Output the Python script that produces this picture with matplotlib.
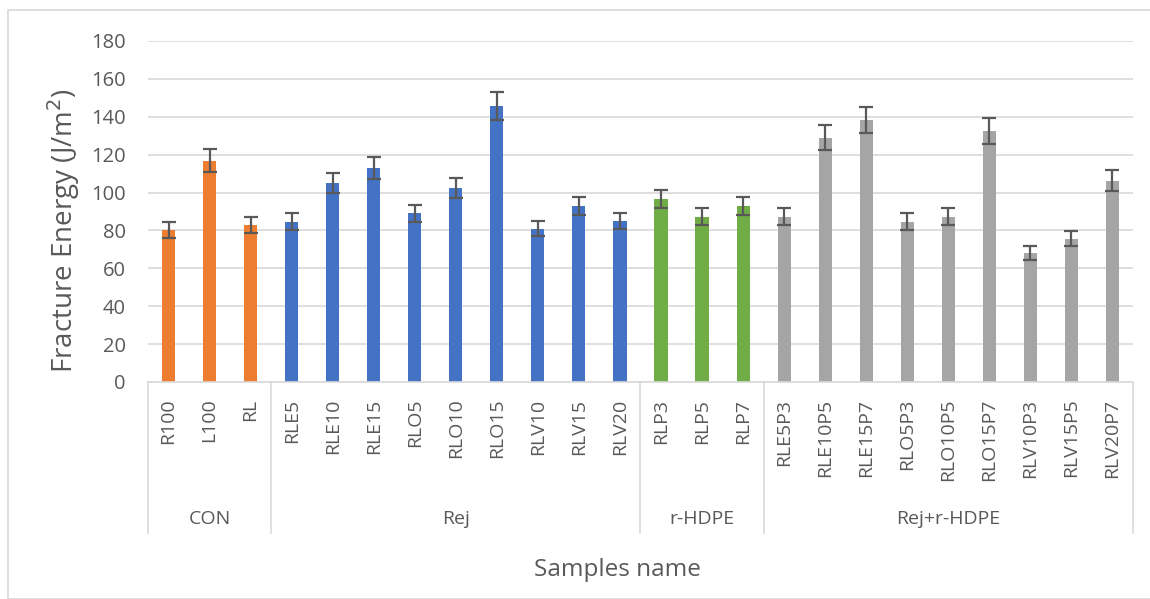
import matplotlib.pyplot as plt
import matplotlib.patches as patches
import numpy as np

# Données
samples = ['R100', 'L100', 'RL',
           'RLE5', 'RLE10', 'RLE15', 'RLO5', 'RLO10', 'RLO15', 'RLV10', 'RLV15', 'RLV20',
           'RLP3', 'RLP5', 'RLP7',
           'RLE5P3', 'RLE10P5', 'RLE15P7', 'RLO5P3', 'RLO10P5', 'RLO15P7', 'RLV10P3', 'RLV15P5', 'RLV20P7']
energy = [80.2, 116.8, 82.8,
          84.6, 104.8, 113.0, 89.0, 102.4, 145.9, 80.9, 92.9, 84.9,
          96.7, 87.2, 93.0,
          87.2, 129.0, 138.3, 84.6, 87.2, 132.5, 68.2, 75.6, 106.3]
errors = [4.0, 6.0, 4.3,
          4.4, 5.3, 5.7, 4.5, 5.1, 7.4, 4.1, 4.7, 4.2,
          4.9, 4.5, 4.7,
          4.5, 6.4, 6.9, 4.4, 4.5, 6.8, 3.6, 3.9, 5.4]
groups = ['CON', 'Rej', 'r-HDPE', 'Rej+r-HDPE']
group_sizes = [3, 9, 3, 9]
group_colors = ['#ED7D31', '#4472C4', '#70AD47', '#A5A5A5']

text_col = '#595959'
grid_col = '#D9D9D9'
font = 'Open Sans'

fig = plt.figure(figsize=(11.5, 5.99), dpi=100)
ax = fig.add_axes([0.1287, 0.3623, 0.8565, 0.5693])

# Couleurs par groupe
colors = []
for c, n in zip(group_colors, group_sizes):
    colors += [c] * n

x = np.arange(len(samples))
ax.bar(x, energy, width=0.32, color=colors, zorder=2)
ax.errorbar(x, energy, yerr=errors, fmt='none', ecolor='#595959',
            elinewidth=1.6, capsize=4.8, capthick=1.6, zorder=3)

ax.set_xlim(-0.5, len(samples) - 0.5)
ax.set_ylim(0, 180)
ax.set_yticks(np.arange(0, 181, 20))
ax.yaxis.grid(True, color=grid_col, linewidth=1.2, zorder=0)
ax.set_axisbelow(True)
for s in ['top', 'right', 'left']:
    ax.spines[s].set_visible(False)
ax.spines['bottom'].set_color(grid_col)
ax.spines['bottom'].set_linewidth(1.2)

ax.tick_params(axis='y', length=0, pad=16, labelsize=14.5, labelcolor=text_col)
ax.tick_params(axis='x', length=0, pad=12, labelsize=14, labelcolor=text_col)
for lab in ax.get_yticklabels():
    lab.set_family(font)
ax.set_xticks(x)
ax.set_xticklabels(samples, rotation=90, family=font)

ax.set_ylabel('Fracture Energy (J/m$^2$)', fontsize=20, color=text_col, family=font)
ax.yaxis.set_label_coords(-0.086, 0.443)
ax.yaxis.label.set_va('center')

# Axe des catégories à deux niveaux
trans = ax.get_xaxis_transform()
bounds = np.concatenate([[0], np.cumsum(group_sizes)]) - 0.5
for b in bounds:
    ax.plot([b, b], [0, -0.443], transform=trans, color=grid_col,
            linewidth=1.2, clip_on=False)
for g, lo, hi in zip(groups, bounds[:-1], bounds[1:]):
    ax.text((lo + hi) / 2, -0.402, g, transform=trans, ha='center', va='center',
            fontsize=14, color=text_col, family=font)

fig.text(0.5365, 0.048, 'Samples name', ha='center', va='center',
         fontsize=17.5, color=text_col, family=font)

# Cadre du graphique
fig.patches.append(patches.Rectangle((8 / 1150, 0), 1.0, 1 - 10 / 599,
                                     transform=fig.transFigure, fill=False,
                                     edgecolor=grid_col, linewidth=1.2))

fig.savefig('out.png', dpi=100)
plt.close(fig)
